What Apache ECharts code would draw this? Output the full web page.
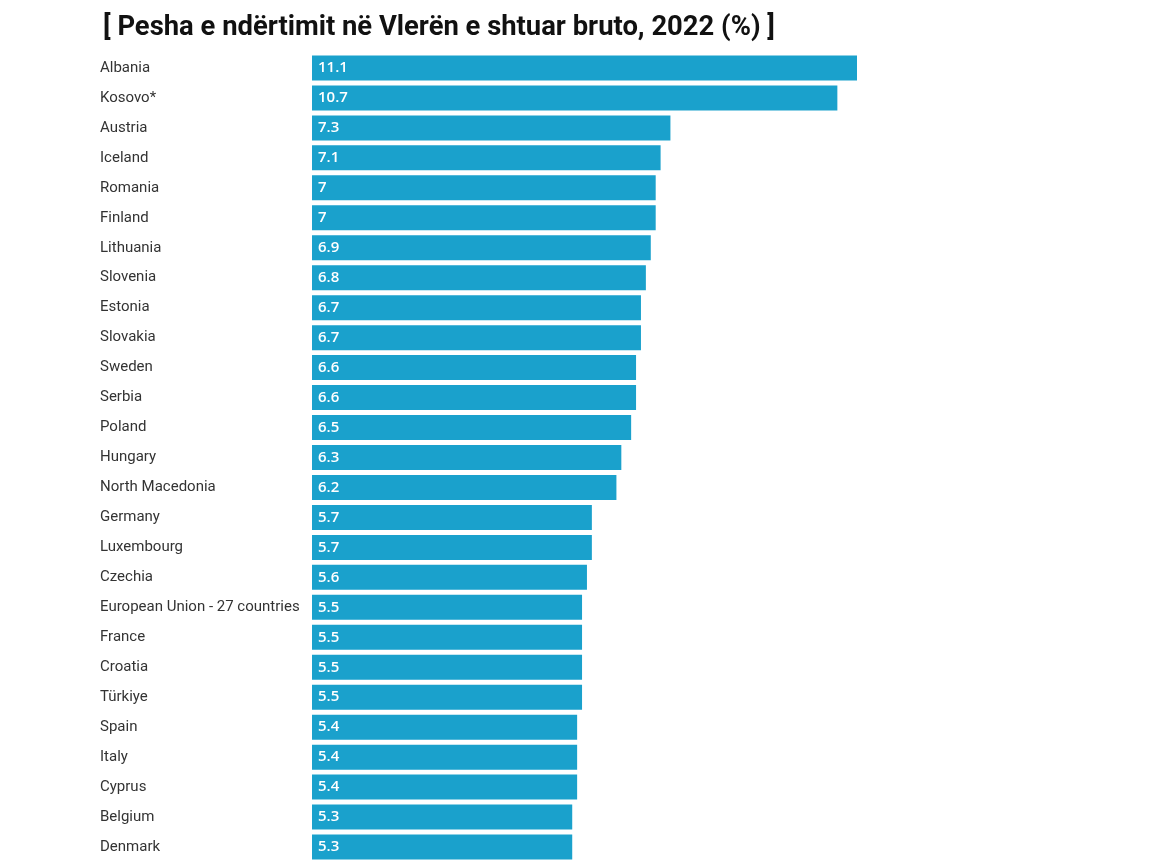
<!DOCTYPE html>
<html>
<head>
<meta charset="utf-8">
<script src="https://cdn.jsdelivr.net/npm/echarts@6/dist/echarts.min.js"></script>
<style>
html,body{margin:0;padding:0;background:#fff;}
#c{width:1157px;height:862px;}
</style>
</head>
<body>
<div id="c"></div>
<script>
var titleText = "[ Pesha e ndërtimit në Vlerën e shtuar bruto, 2022 (%) ]";
var categories = ["Albania","Kosovo*","Austria","Iceland","Romania","Finland","Lithuania","Slovenia","Estonia","Slovakia","Sweden","Serbia","Poland","Hungary","North Macedonia","Germany","Luxembourg","Czechia","European Union - 27 countries","France","Croatia","Türkiye","Spain","Italy","Cyprus","Belgium","Denmark"];
var values = [11.1,10.7,7.3,7.1,7,7,6.9,6.8,6.7,6.7,6.6,6.6,6.5,6.3,6.2,5.7,5.7,5.6,5.5,5.5,5.5,5.5,5.4,5.4,5.4,5.3,5.3];

var chart = echarts.init(document.getElementById('c'));
chart.setOption({
  animation: false,
  title: {
    text: titleText,
    left: 98,
    top: 10,
    textStyle: {fontFamily: 'Roboto', fontWeight: 'bold', fontSize: 27.4, color: '#111'}
  },
  grid: {left: 312, top: 53, width: 545, height: 810},
  xAxis: {type: 'value', min: 0, max: 11.1, show: false},
  yAxis: {
    type: 'category', data: categories, inverse: true,
    axisLine: {show: false}, axisTick: {show: false},
    axisLabel: {align: 'left', margin: 212, fontFamily: 'Roboto', fontSize: 15, color: '#333'}
  },
  series: [{
    type: 'bar', data: values, barWidth: 25,
    itemStyle: {color: '#1aa1cc'},
    label: {show: true, position: 'insideLeft', distance: 6, color: '#fff', fontFamily: 'Open Sans', fontWeight: 600, fontSize: 15}
  }]
});
</script>
</body>
</html>
